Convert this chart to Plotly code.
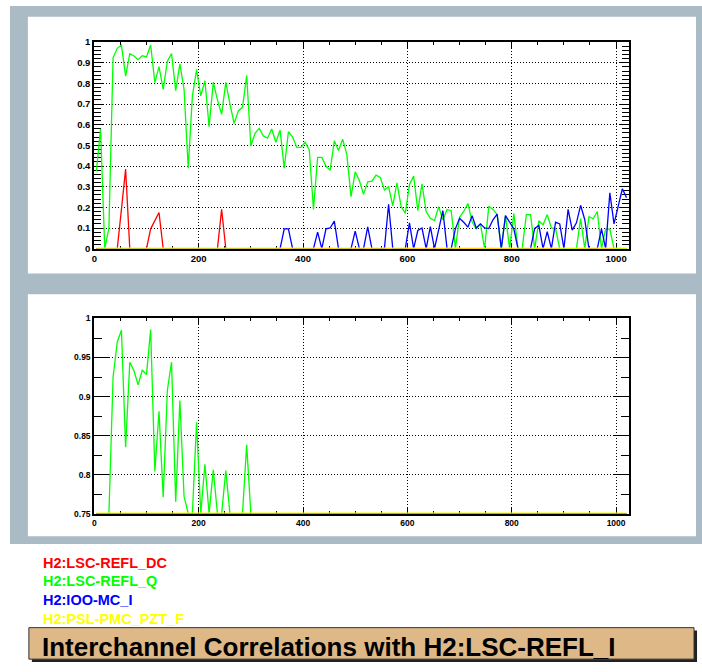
import numpy as np
import plotly.graph_objects as go

# ---- data: bin centres and correlation values ----
bin_width = 8
n_bins = 128
x_vals = [4 + bin_width * k for k in range(n_bins)]

refl_q = [0.375, 0.58, 0.0, 0.1, 0.925, 0.97, 0.985, 0.835, 0.944, 0.933,
          0.915, 0.934, 0.928, 0.986, 0.804, 0.881, 0.771, 0.908, 0.944, 0.765,
          0.895, 0.772, 0.39, 0.74, 0.867, 0.74, 0.813, 0.59, 0.806, 0.72,
          0.65, 0.805, 0.70, 0.606, 0.667, 0.684, 0.838, 0.497, 0.558, 0.582,
          0.545, 0.535, 0.579, 0.515, 0.574, 0.39, 0.566, 0.54, 0.49, 0.49,
          0.515, 0.478, 0.19, 0.442, 0.442, 0.40, 0.38, 0.523, 0.475, 0.53,
          0.455, 0.252, 0.372, 0.33, 0.263, 0.324, 0.327, 0.356, 0.345, 0.284,
          0.30, 0.207, 0.319, 0.205, 0.171, 0.311, 0.351, 0.184, 0.314, 0.18,
          0.147, 0.136, 0.203, 0.14, 0.19, 0.184, 0.0, 0.152, 0.18, 0.219,
          0.13, 0.096, 0.12, 0.0, 0.205, 0.19, 0.165, 0.0, 0.16, 0.0,
          0.17, 0.0, 0.0, 0.165, 0.165, 0.0, 0.135, 0.115, 0.165, 0.1,
          0.097, 0.0, 0.0, 0.0, 0.0, 0.0, 0.145, 0.0, 0.155, 0.145,
          0.18, 0.0, 0.095, 0.095, 0.0, 0.0, 0.0, 0.0]

refl_dc = [0.0] * n_bins
for k, v in {6: 0.19, 7: 0.385, 13: 0.096, 14: 0.135, 15: 0.175, 30: 0.19}.items():
    refl_dc[k] = v

ioo_mc_i = [0.0] * n_bins
for k, v in {45: 0.096, 46: 0.096, 53: 0.08, 55: 0.096, 56: 0.1, 57: 0.133,
             62: 0.085, 65: 0.105, 70: 0.215, 75: 0.125, 77: 0.088, 78: 0.1,
             80: 0.107, 82: 0.1, 83: 0.184, 86: 0.096, 87: 0.147, 88: 0.128,
             89: 0.104, 90: 0.16, 91: 0.1, 92: 0.12, 93: 0.1, 94: 0.097,
             95: 0.14, 96: 0.167, 98: 0.16, 99: 0.128, 100: 0.096, 105: 0.098,
             106: 0.113, 108: 0.082, 110: 0.128, 111: 0.12, 113: 0.19,
             114: 0.09, 115: 0.125, 116: 0.21, 117: 0.14, 121: 0.096,
             123: 0.27, 124: 0.12, 125: 0.205, 126: 0.29, 127: 0.247}.items():
    ioo_mc_i[k] = v

pmc_pzt_f = [0.0] * n_bins

series_names = ["H2:LSC-REFL_DC", "H2:LSC-REFL_Q", "H2:IOO-MC_I", "H2:PSL-PMC_PZT_F"]
series_vals = [refl_dc, refl_q, ioo_mc_i, pmc_pzt_f]
series_colors = ["#ff0000", "#00ff00", "#0000ff", "#ffff00"]
series_widths = [1.3, 1.3, 1.3, 2.2]

title_text = "Interchannel Correlations with H2:LSC-REFL_I"

top_yrange = [0, 1]
bot_yrange = [0.75, 1]
x_range = [0, 1024]

# ---- figure ----
W, H = 702, 672
def px(x):
    return x / W
def py(y):
    return 1 - y / H

fig = go.Figure()
for name, vals, col, lw in zip(series_names, series_vals, series_colors, series_widths):
    v = np.array(vals)
    fig.add_trace(go.Scatter(x=x_vals, y=v, mode="lines", name=name,
                             line=dict(color=col, width=lw),
                             xaxis="x", yaxis="y", showlegend=False))
    # ROOT draws values below the frame minimum on the frame
    fig.add_trace(go.Scatter(x=x_vals, y=np.maximum(v, bot_yrange[0]), mode="lines",
                             name=name, line=dict(color=col, width=lw),
                             xaxis="x2", yaxis="y2", showlegend=False))

tickfont_top = dict(family="Liberation Sans, Arial, sans-serif", size=9.5,
                    color="black", weight="bold")
tickfont_bot = dict(family="Liberation Sans, Arial, sans-serif", size=8.5,
                    color="black", weight="bold")

grid_dash = "1px,2px"
xdom = [px(91.7), px(628.3)]
common_x = dict(range=x_range, tick0=0, dtick=200, ticks="inside", ticklen=6,
                tickwidth=1, tickcolor="black",
                minor=dict(dtick=50, ticks="inside", ticklen=3, tickcolor="black",
                           showgrid=False),
                showgrid=True, griddash=grid_dash, gridcolor="black", gridwidth=1,
                showline=True, linecolor="black", linewidth=2, mirror="allticks",
                zeroline=False, domain=xdom, fixedrange=True, layer="below traces")

fig.update_layout(
    width=W, height=H, margin=dict(l=0, r=0, t=0, b=0),
    paper_bgcolor="white", plot_bgcolor="white",
    xaxis=dict(common_x, anchor="y", tickfont=tickfont_top),
    yaxis=dict(range=top_yrange, tick0=0, dtick=0.1, ticks="inside", ticklen=9,
               tickcolor="black", tickwidth=1,
               minor=dict(dtick=0.02, ticks="inside", ticklen=7, tickcolor="black",
                          showgrid=False),
               showgrid=True, griddash=grid_dash, gridcolor="black", gridwidth=1,
               showline=True, linecolor="black", linewidth=2, mirror="allticks",
               zeroline=False, domain=[py(246.7), py(36.7)], anchor="x",
               tickfont=tickfont_top, layer="below traces"),
    xaxis2=dict(common_x, anchor="y2", tickfont=tickfont_bot),
    yaxis2=dict(range=bot_yrange, tick0=0.75, dtick=0.05, ticks="inside", ticklen=16,
                tickcolor="black", tickwidth=1,
                minor=dict(dtick=0.025, ticks="inside", ticklen=8, tickcolor="black",
                           showgrid=False),
                showgrid=True, griddash=grid_dash, gridcolor="black", gridwidth=1,
                showline=True, linecolor="black", linewidth=2, mirror="allticks",
                zeroline=False, domain=[py(516), py(317.7)], anchor="x2",
                tickfont=tickfont_bot, layer="below traces"),
)

gray = "#aabbc5"
shapes = [
    dict(type="rect", xref="paper", yref="paper", x0=px(7), x1=px(702), y0=py(547), y1=py(0),
         fillcolor=gray, line=dict(width=0), layer="below"),
    dict(type="rect", xref="paper", yref="paper", x0=px(25), x1=px(696), y0=py(272), y1=py(11),
         fillcolor="white", line=dict(width=0), layer="below"),
    dict(type="rect", xref="paper", yref="paper", x0=px(25), x1=px(696), y0=py(539), y1=py(293),
         fillcolor="white", line=dict(width=0), layer="below"),
    # title box shadow and box
    dict(type="rect", xref="paper", yref="paper", x0=px(29), x1=px(697), y0=py(667), y1=py(635),
         fillcolor="#222222", line=dict(width=0), layer="below"),
    dict(type="rect", xref="paper", yref="paper", x0=px(26), x1=px(694), y0=py(664), y1=py(632),
         fillcolor="#deb887", line=dict(color="#333333", width=1), layer="below"),
]
fig.update_layout(shapes=shapes)

legend_y = [566, 585, 604, 623]
annos = []
for name, col, yy in zip(series_names, series_colors, legend_y):
    annos.append(dict(xref="paper", yref="paper", x=px(38), y=py(yy), xanchor="left",
                      yanchor="middle", showarrow=False, text=name,
                      font=dict(family="Liberation Sans, Arial, sans-serif", size=14.5,
                                color=col, weight="bold")))
annos.append(dict(xref="paper", yref="paper", x=px(37), y=py(652), xanchor="left",
                  yanchor="middle", showarrow=False, text=title_text,
                  font=dict(family="Liberation Sans, Arial, sans-serif", size=26,
                            color="black", weight="bold")))
fig.update_layout(annotations=annos)

fig.write_html("out.html")
